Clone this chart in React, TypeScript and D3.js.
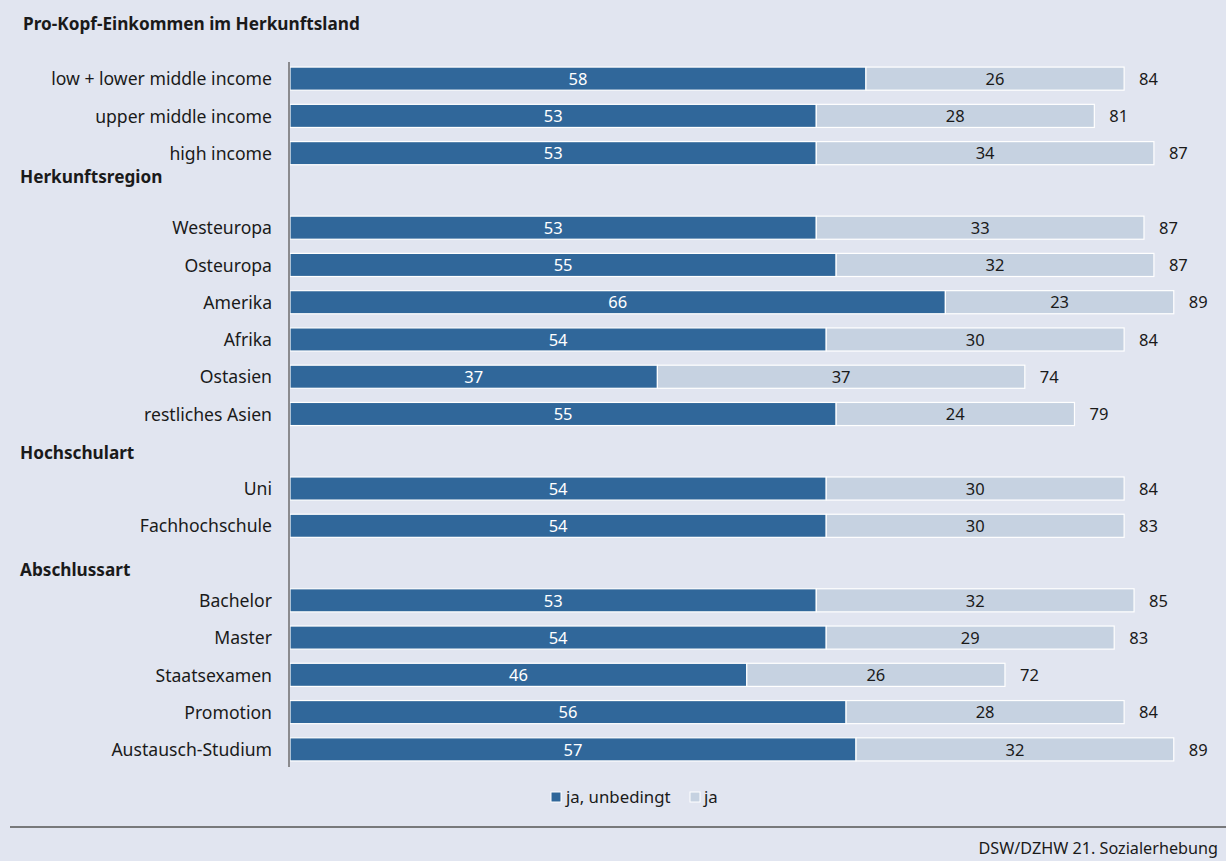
import React from "react";
import * as d3 from "d3";

const categories = [
  "low + lower middle income",
  "upper middle income",
  "high income",
  "__Herkunftsregion",
  "Westeuropa",
  "Osteuropa",
  "Amerika",
  "Afrika",
  "Ostasien",
  "restliches Asien",
  "__Hochschulart",
  "Uni",
  "Fachhochschule",
  "__Abschlussart",
  "Bachelor",
  "Master",
  "Staatsexamen",
  "Promotion",
  "Austausch-Studium",
];
const jaUnbedingt = [58, 53, 53, null, 53, 55, 66, 54, 37, 55, null, 54, 54, null, 53, 54, 46, 56, 57];
const ja = [26, 28, 34, null, 33, 32, 23, 30, 37, 24, null, 30, 30, null, 32, 29, 26, 28, 32];
const totals = [84, 81, 87, null, 87, 87, 89, 84, 74, 79, null, 84, 83, null, 85, 83, 72, 84, 89];
const headingOffsets: Record<string, number> = { __Herkunftsregion: -13, __Hochschulart: 2, __Abschlussart: 7 };

const W = 1226;
const H = 861;
const DARK = "#30679a";
const LIGHT = "#c6d2e1";
const BG = "#e1e5f0";
const FONT = "'Noto Sans', sans-serif";

export default function App() {
  const x = d3.scaleLinear().domain([0, 100]).range([290, 290 + 993]);
  const y = d3.scaleBand<string>().domain(categories).range([60, 768]).paddingInner(0.38).paddingOuter(0.19);
  const bh = y.bandwidth();
  return (
    <svg width={W} height={H} style={{ position: "absolute", left: 0, top: 0 }} fontFamily={FONT}>
      <rect x={0} y={0} width={W} height={H} fill={BG} />
      <text x={23} y={30} fontSize={17.2} fontWeight="bold" fill="#1a1a1a">Pro-Kopf-Einkommen im Herkunftsland</text>
      {categories.map((c, i) => {
        const yc = (y(c) as number) + bh / 2;
        if (c.startsWith("__")) {
          return (
            <text key={c} x={20} y={yc + (headingOffsets[c] || 0)} dy="0.35em" fontSize={17.2} fontWeight="bold" fill="#1a1a1a">
              {c.slice(2)}
            </text>
          );
        }
        const a = jaUnbedingt[i] as number;
        const b = ja[i] as number;
        const t = totals[i] as number;
        const y0 = y(c) as number;
        return (
          <g key={c}>
            <text x={272} y={yc + 0.5} dy="0.35em" textAnchor="end" fontSize={17.6} fill="#1a1a1a">{c}</text>
            <rect x={x(0)} y={y0} width={x(a) - x(0)} height={bh} fill={DARK} stroke="#fff" strokeWidth={1.2} />
            <rect x={x(a)} y={y0} width={x(a + b) - x(a)} height={bh} fill={LIGHT} stroke="#fff" strokeWidth={1.2} />
            <text x={(x(0) + x(a)) / 2} y={yc + 0.5} dy="0.35em" textAnchor="middle" fontSize={16.5} fill="#fff">{a}</text>
            <text x={(x(a) + x(a + b)) / 2} y={yc + 0.5} dy="0.35em" textAnchor="middle" fontSize={16.5} fill="#1a1a1a">{b}</text>
            <text x={x(a + b) + 15} y={yc + 0.5} dy="0.35em" fontSize={16.5} fill="#1a1a1a">{t}</text>
          </g>
        );
      })}
      <line x1={289} x2={289} y1={62} y2={767} stroke="#8a8a8e" strokeWidth={2} />
      <g>
        <rect x={551} y={792} width={10} height={10} fill={DARK} stroke="#fff" strokeWidth={1} />
        <text x={566} y={797} dy="0.35em" fontSize={16.8} fill="#1a1a1a">ja, unbedingt</text>
        <rect x={690} y={792} width={10} height={10} fill={LIGHT} stroke="#fff" strokeWidth={1} />
        <text x={704} y={797} dy="0.35em" fontSize={16.8} fill="#1a1a1a">ja</text>
      </g>
      <line x1={10} x2={W} y1={827} y2={827} stroke="#555" strokeWidth={1.5} />
      <text x={1218} y={848} dy="0.35em" textAnchor="end" fontSize={16.2} fill="#1a1a1a">DSW/DZHW 21. Sozialerhebung</text>
    </svg>
  );
}
